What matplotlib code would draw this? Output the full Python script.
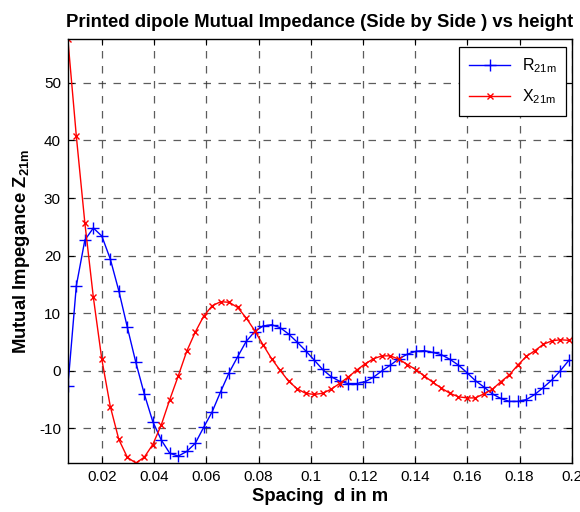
import matplotlib
matplotlib.use("Agg")
import matplotlib.pyplot as plt
import numpy as np
from matplotlib.ticker import FuncFormatter

plt.rcParams["font.family"] = ["Liberation Sans", "DejaVu Sans"]
plt.rcParams["mathtext.fontset"] = "custom"
plt.rcParams["mathtext.rm"] = "Liberation Sans"
plt.rcParams["mathtext.bf"] = "Liberation Sans:bold"
plt.rcParams["axes.unicode_minus"] = False

# spacing grid (m), 60 samples
d = np.linspace(0.0069, 0.1988, 60)

# mutual resistance R21m (ohm)
r21m = [
    -2.7, 14.8, 22.7, 24.8, 23.4, 19.4, 13.9, 7.6, 1.5, -4.0,
    -8.8, -12.0, -14.3, -14.8, -14.0, -12.6, -9.8, -7.1, -3.6, -0.3,
    2.45, 5.1, 6.8, 7.8, 8.0, 7.5, 6.4, 5.0, 3.5, 1.9,
    0.25, -1.0, -1.8, -2.2, -2.2, -1.9, -1.1, 0.0, 1.0, 2.1,
    2.9, 3.4, 3.5, 3.2, 2.8, 2.0, 1.0, -0.3, -1.7, -2.8,
    -4.0, -4.8, -5.3, -5.3, -5.0, -4.1, -2.9, -1.6, 0.0, 1.8,
]

# mutual reactance X21m (ohm)
x21m = [
    57.6, 40.7, 25.7, 12.8, 2.0, -6.2, -11.9, -15.0, -16.0, -15.0,
    -12.8, -9.4, -5.0, -0.9, 3.4, 6.7, 9.5, 11.3, 12.0, 11.9,
    11.0, 9.2, 7.0, 4.5, 2.1, 0.1, -1.8, -3.1, -3.9, -4.1,
    -3.9, -3.2, -2.2, -1.1, 0.1, 1.2, 2.1, 2.6, 2.6, 2.0,
    1.1, 0.2, -0.9, -2.0, -3.0, -3.9, -4.5, -4.7, -4.7, -4.0,
    -3.2, -1.9, -0.7, 1.0, 2.5, 3.5, 4.6, 5.2, 5.4, 5.3,
]

xticks = [0.02, 0.04, 0.06, 0.08, 0.1, 0.12, 0.14, 0.16, 0.18, 0.2]
yticks = [-10, 0, 10, 20, 30, 40, 50]

fig = plt.figure(figsize=(5.8, 5.12), dpi=100)
ax = fig.add_axes([0.117, 0.0957, 0.869, 0.828])

ax.plot(d, r21m, color="blue", marker="+", markersize=8.5, markeredgewidth=1.0,
        linewidth=1.0, label=r"R$_{\mathregular{21m}}$")
ax.plot(d, x21m, color="red", marker="x", markersize=4.5, markeredgewidth=1.0,
        linewidth=1.0, label=r"X$_{\mathregular{21m}}$")

ax.set_xlim(0.0069, 0.2)
ax.set_ylim(-16.0, 57.6)
ax.set_xticks(xticks)
ax.set_yticks(yticks)
ax.xaxis.set_major_formatter(FuncFormatter(lambda v, p: f"{v:g}"))
ax.tick_params(direction="in", top=True, right=True, labelsize=11, length=4,
               width=0.8, pad=5)

ax.grid(True, color="#333333", linestyle=(0, (6, 6)), linewidth=0.9, alpha=0.8)
for s in ax.spines.values():
    s.set_linewidth(1.0)

ax.set_title("Printed dipole Mutual Impedance (Side by Side ) vs height",
             fontsize=13.3, fontweight="bold", pad=9)
ax.set_xlabel("Spacing  d in m", fontsize=13.3, fontweight="bold", labelpad=3)
ax.set_ylabel(r"Mutual Impegance Z$_{\mathbf{21m}}$", fontsize=13.3,
              fontweight="bold", labelpad=5)

leg = ax.legend(loc="upper right", fontsize=11.5, fancybox=False, framealpha=1,
                edgecolor="black", handlelength=2.6, handletextpad=0.7,
                borderpad=0.6, labelspacing=0.75, borderaxespad=0,
                bbox_to_anchor=(0.988, 0.981))
leg.get_frame().set_linewidth(0.9)

fig.savefig("out.png", dpi=100)
